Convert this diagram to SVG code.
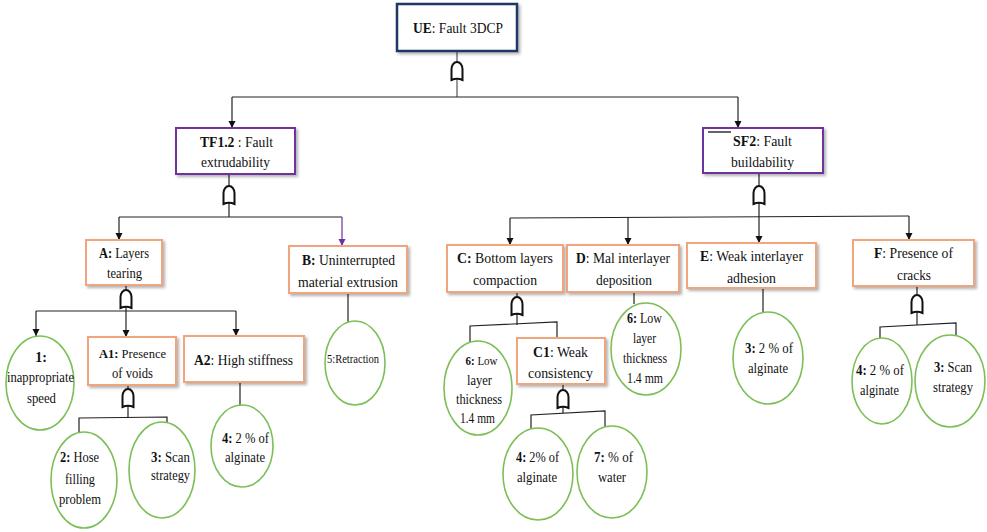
<svg xmlns="http://www.w3.org/2000/svg" xmlns:xlink="http://www.w3.org/1999/xlink" width="987" height="532" viewBox="0 0 987 532" font-family="'Liberation Serif', 'Times New Roman', serif">
<style>
text{font-family:"Liberation Serif","Times New Roman",serif;font-size:15px;fill:#111;text-anchor:middle;}
.c text{font-size:14px;}
.c text.s{font-size:13px;}
text.m{font-size:14px;}
text.n{font-size:13px;}
.b{font-weight:bold;}
.ue{fill:#fff;stroke:#1f3864;stroke-width:2.5;filter:url(#sh);}
.pu{fill:#fff;stroke:#7030a0;stroke-width:2;filter:url(#sh);}
.or{fill:#fff;stroke:#f1a57f;stroke-width:2;filter:url(#sh);}
.ci{fill:#fff;stroke:#7cbf58;stroke-width:1.6;}
.ln{stroke:#222;stroke-width:1.2;fill:none;}
.ar{marker-end:url(#arr);}
.gate{fill:#fff;stroke:#111;stroke-width:2;}
</style>
<defs>
<filter id="sh" x="-10%" y="-10%" width="130%" height="140%">
<feDropShadow dx="2" dy="2" stdDeviation="1.5" flood-color="#000" flood-opacity="0.3"/>
</filter>
<marker id="arr" markerWidth="8" markerHeight="8" refX="7" refY="4" orient="auto" markerUnits="userSpaceOnUse">
<path d="M0,0.5 L7,4 L0,7.5 Z" fill="#111"/>
</marker>
<marker id="arrp" markerWidth="8" markerHeight="8" refX="7" refY="4" orient="auto" markerUnits="userSpaceOnUse">
<path d="M0,0.5 L7,4 L0,7.5 Z" fill="#7030a0"/>
</marker>
<path id="gate" class="gate" d="M-5.5,18 V7 A5.5,7 0 0 1 5.5,7 V18 Q0,15.5 -5.5,18 Z"/>
</defs>

<g id="connectors">
<line x1="457" y1="51" x2="457" y2="62" stroke="#777" stroke-width="1.5"/>
<line x1="457" y1="78" x2="457" y2="97" stroke="#777" stroke-width="1.5"/>
<polyline class="ln" points="232,97 738,97"/>
<line class="ln ar" x1="232" y1="97" x2="232" y2="128"/>
<line class="ln ar" x1="738" y1="97" x2="738" y2="128"/>
<use xlink:href="#gate" href="#gate" x="457" y="62"/>

<line class="ln" x1="229" y1="174" x2="229" y2="186"/>
<line class="ln" x1="229" y1="203" x2="229" y2="217"/>
<polyline class="ln" points="119,217 342,217"/>
<line class="ln ar" x1="119" y1="217" x2="119" y2="240"/>
<line x1="342" y1="217" x2="342" y2="246" stroke="#7030a0" stroke-width="1.2" marker-end="url(#arrp)"/>
<use xlink:href="#gate" href="#gate" x="229" y="186"/>

<line class="ln" x1="759" y1="173" x2="759" y2="186"/>
<line class="ln ar" x1="759" y1="203" x2="759" y2="243"/>
<polyline class="ln" points="510,218 909,216"/>
<line class="ln ar" x1="510" y1="218" x2="510" y2="245"/>
<line class="ln ar" x1="628" y1="217" x2="628" y2="245"/>
<line class="ln ar" x1="909" y1="216" x2="909" y2="240"/>
<use xlink:href="#gate" href="#gate" x="759" y="186"/>

<line class="ln" x1="126" y1="285" x2="126" y2="290"/>
<line class="ln" x1="126" y1="307" x2="126" y2="311"/>
<polyline class="ln" points="36,311 236,311"/>
<line class="ln ar" x1="36" y1="311" x2="36" y2="336"/>
<line class="ln ar" x1="126" y1="311" x2="126" y2="337"/>
<line class="ln ar" x1="236" y1="311" x2="236" y2="336"/>
<use xlink:href="#gate" href="#gate" x="126" y="290"/>

<line class="ln" x1="128" y1="385" x2="128" y2="389"/>
<line class="ln" x1="128" y1="406" x2="128" y2="418"/>
<polyline class="ln" points="79,434 79,418 167,417 167,424"/>
<use xlink:href="#gate" href="#gate" x="128" y="389"/>

<line class="ln" x1="240" y1="382" x2="240" y2="405"/>
<line class="ln" x1="348" y1="293" x2="348" y2="322"/>

<line class="ln" x1="517" y1="292" x2="517" y2="297"/>
<line class="ln" x1="517" y1="314" x2="517" y2="325"/>
<polyline class="ln" points="470,342 470,326 557,322 557,338"/>
<use xlink:href="#gate" href="#gate" x="517" y="297"/>

<line class="ln" x1="563" y1="384" x2="563" y2="390"/>
<line class="ln" x1="563" y1="407" x2="563" y2="413"/>
<polyline class="ln" points="531,429 531,415 605,411 605,428"/>
<use xlink:href="#gate" href="#gate" x="563" y="390"/>

<line class="ln" x1="634" y1="292" x2="634" y2="304"/>
<line class="ln" x1="763" y1="288" x2="763" y2="313"/>

<line class="ln" x1="917" y1="286" x2="917" y2="295"/>
<line class="ln" x1="917" y1="312" x2="917" y2="325"/>
<polyline class="ln" points="880,340 880,327 956,323 956,336"/>
<use xlink:href="#gate" href="#gate" x="917" y="295"/>
</g>

<g id="UE"><rect class="ue" x="397" y="4" width="120" height="47"/>
<text x="458" y="33" textLength="90" lengthAdjust="spacingAndGlyphs"><tspan class="b">UE</tspan>: Fault 3DCP</text></g>

<g id="TF1.2"><rect class="pu" x="176" y="128" width="119" height="46"/>
<text x="236.5" y="147" textLength="73" lengthAdjust="spacingAndGlyphs"><tspan class="b">TF1.2</tspan> : Fault</text>
<text x="235.5" y="167" textLength="69" lengthAdjust="spacingAndGlyphs">extrudability</text></g>

<g id="SF2"><rect class="pu" x="703" y="128" width="120" height="45"/>
<line x1="708" y1="132" x2="731" y2="132" stroke="#111" stroke-width="1.3"/>
<text x="762.5" y="146" textLength="59" lengthAdjust="spacingAndGlyphs"><tspan class="b">SF2</tspan>: Fault</text>
<text x="762.5" y="167" textLength="63" lengthAdjust="spacingAndGlyphs">buildability</text></g>

<g id="A"><rect class="or" x="86" y="240" width="76" height="45"/>
<text class="m" x="124" y="258" textLength="50" lengthAdjust="spacingAndGlyphs"><tspan class="b">A:</tspan> Layers</text>
<text class="m" x="124.5" y="278" textLength="35" lengthAdjust="spacingAndGlyphs">tearing</text></g>

<g id="A1"><rect class="or" x="88" y="337" width="88" height="48"/>
<text class="n" x="132.5" y="358" textLength="67" lengthAdjust="spacingAndGlyphs"><tspan class="b">A1:</tspan> Presence</text>
<text class="m" x="132.5" y="378" textLength="41" lengthAdjust="spacingAndGlyphs">of voids</text></g>

<g id="A2"><rect class="or" x="184" y="336" width="120" height="46"/>
<text x="243.5" y="365" textLength="99" lengthAdjust="spacingAndGlyphs"><tspan class="b">A2</tspan>: High stiffness</text></g>

<g id="B"><rect class="or" x="289" y="246" width="118" height="47"/>
<text x="348.5" y="265" textLength="93" lengthAdjust="spacingAndGlyphs"><tspan class="b">B:</tspan> Uninterrupted</text>
<text x="348" y="287" textLength="100" lengthAdjust="spacingAndGlyphs">material extrusion</text></g>

<g id="C"><rect class="or" x="447" y="245" width="116" height="47"/>
<text x="505" y="263" textLength="96" lengthAdjust="spacingAndGlyphs"><tspan class="b">C:</tspan> Bottom layers</text>
<text x="505" y="285" textLength="64" lengthAdjust="spacingAndGlyphs">compaction</text></g>

<g id="C1"><rect class="or" x="517" y="338" width="88" height="46"/>
<text x="560.5" y="357" textLength="55" lengthAdjust="spacingAndGlyphs"><tspan class="b">C1</tspan>: Weak</text>
<text x="560.5" y="378" textLength="65" lengthAdjust="spacingAndGlyphs">consistency</text></g>

<g id="D"><rect class="or" x="567" y="245" width="112" height="47"/>
<text x="623" y="263" textLength="94" lengthAdjust="spacingAndGlyphs"><tspan class="b">D</tspan>: Mal interlayer</text>
<text x="624" y="285" textLength="56" lengthAdjust="spacingAndGlyphs">deposition</text></g>

<g id="E"><rect class="or" x="687" y="243" width="129" height="45"/>
<text x="751.5" y="261" textLength="103" lengthAdjust="spacingAndGlyphs"><tspan class="b">E</tspan>: Weak interlayer</text>
<text x="751.5" y="283" textLength="49" lengthAdjust="spacingAndGlyphs">adhesion</text></g>

<g id="F"><rect class="or" x="853" y="240" width="121" height="46"/>
<text x="913.5" y="258" textLength="79" lengthAdjust="spacingAndGlyphs"><tspan class="b">F</tspan>: Presence of</text>
<text x="914" y="280" textLength="34" lengthAdjust="spacingAndGlyphs">cracks</text></g>

<g id="e1" class="c"><ellipse class="ci" cx="40" cy="383" rx="34" ry="47"/>
<text x="41" y="362" class="b">1:</text>
<text x="40.5" y="382" textLength="67" lengthAdjust="spacingAndGlyphs">inappropriate</text>
<text x="41.5" y="403" textLength="29" lengthAdjust="spacingAndGlyphs">speed</text></g>

<g id="e2" class="c"><ellipse class="ci" cx="84" cy="480" rx="33" ry="48"/>
<text x="79.5" y="462" textLength="39" lengthAdjust="spacingAndGlyphs"><tspan class="b">2:</tspan> Hose</text>
<text x="80" y="484" textLength="30" lengthAdjust="spacingAndGlyphs">filling</text>
<text x="80" y="504" textLength="42" lengthAdjust="spacingAndGlyphs">problem</text></g>

<g id="e3" class="c"><ellipse class="ci" cx="162" cy="470" rx="33" ry="48"/>
<text x="170.5" y="462" textLength="39" lengthAdjust="spacingAndGlyphs"><tspan class="b">3:</tspan> Scan</text>
<text x="170.5" y="480" textLength="39" lengthAdjust="spacingAndGlyphs">strategy</text></g>

<g id="e4a" class="c"><ellipse class="ci" cx="242" cy="446" rx="31" ry="41"/>
<text x="245.5" y="443" textLength="47" lengthAdjust="spacingAndGlyphs"><tspan class="b">4:</tspan> 2 % of</text>
<text x="245" y="462" textLength="40" lengthAdjust="spacingAndGlyphs">alginate</text></g>

<g id="e5" class="c"><ellipse class="ci" cx="355" cy="363" rx="30" ry="42"/>
<text x="353" y="363" style="font-size:12px" textLength="52" lengthAdjust="spacingAndGlyphs">5:Retraction</text></g>

<g id="e6c" class="c"><ellipse class="ci" cx="478" cy="388" rx="34" ry="47"/>
<text class="s" x="481.5" y="365" textLength="32" lengthAdjust="spacingAndGlyphs"><tspan class="b">6:</tspan> Low</text>
<text x="479.5" y="385" textLength="25" lengthAdjust="spacingAndGlyphs">layer</text>
<text x="479" y="404" textLength="46" lengthAdjust="spacingAndGlyphs">thickness</text>
<text x="477.5" y="423" textLength="35" lengthAdjust="spacingAndGlyphs">1.4 mm</text></g>

<g id="e4c" class="c"><ellipse class="ci" cx="538" cy="474" rx="35" ry="46"/>
<text x="537.5" y="462" textLength="43" lengthAdjust="spacingAndGlyphs"><tspan class="b">4:</tspan> 2% of</text>
<text x="537" y="482" textLength="40" lengthAdjust="spacingAndGlyphs">alginate</text></g>

<g id="e7" class="c"><ellipse class="ci" cx="612" cy="472" rx="35" ry="46"/>
<text x="613.5" y="462" textLength="39" lengthAdjust="spacingAndGlyphs"><tspan class="b">7:</tspan> % of</text>
<text x="612" y="482" textLength="28" lengthAdjust="spacingAndGlyphs">water</text></g>

<g id="e6d" class="c"><ellipse class="ci" cx="646" cy="349" rx="35" ry="46"/>
<text x="644.5" y="323" textLength="35" lengthAdjust="spacingAndGlyphs"><tspan class="b">6:</tspan> Low</text>
<text x="644.5" y="343" textLength="23" lengthAdjust="spacingAndGlyphs">layer</text>
<text x="645" y="363" textLength="44" lengthAdjust="spacingAndGlyphs">thickness</text>
<text x="645" y="383" textLength="36" lengthAdjust="spacingAndGlyphs">1.4 mm</text></g>

<g id="e3e" class="c"><ellipse class="ci" cx="768" cy="358" rx="35" ry="46"/>
<text x="769" y="353" textLength="48" lengthAdjust="spacingAndGlyphs"><tspan class="b">3:</tspan> 2 % of</text>
<text x="768" y="373" textLength="40" lengthAdjust="spacingAndGlyphs">alginate</text></g>

<g id="e4f" class="c"><ellipse class="ci" cx="882" cy="381" rx="30" ry="43"/>
<text x="880" y="375" textLength="48" lengthAdjust="spacingAndGlyphs"><tspan class="b">4:</tspan> 2 % of</text>
<text x="879.5" y="395" textLength="39" lengthAdjust="spacingAndGlyphs">alginate</text></g>

<g id="e3f" class="c"><ellipse class="ci" cx="950" cy="381" rx="35" ry="46"/>
<text x="953" y="372" textLength="38" lengthAdjust="spacingAndGlyphs"><tspan class="b">3:</tspan> Scan</text>
<text x="953" y="392" textLength="40" lengthAdjust="spacingAndGlyphs">strategy</text></g>
</svg>
